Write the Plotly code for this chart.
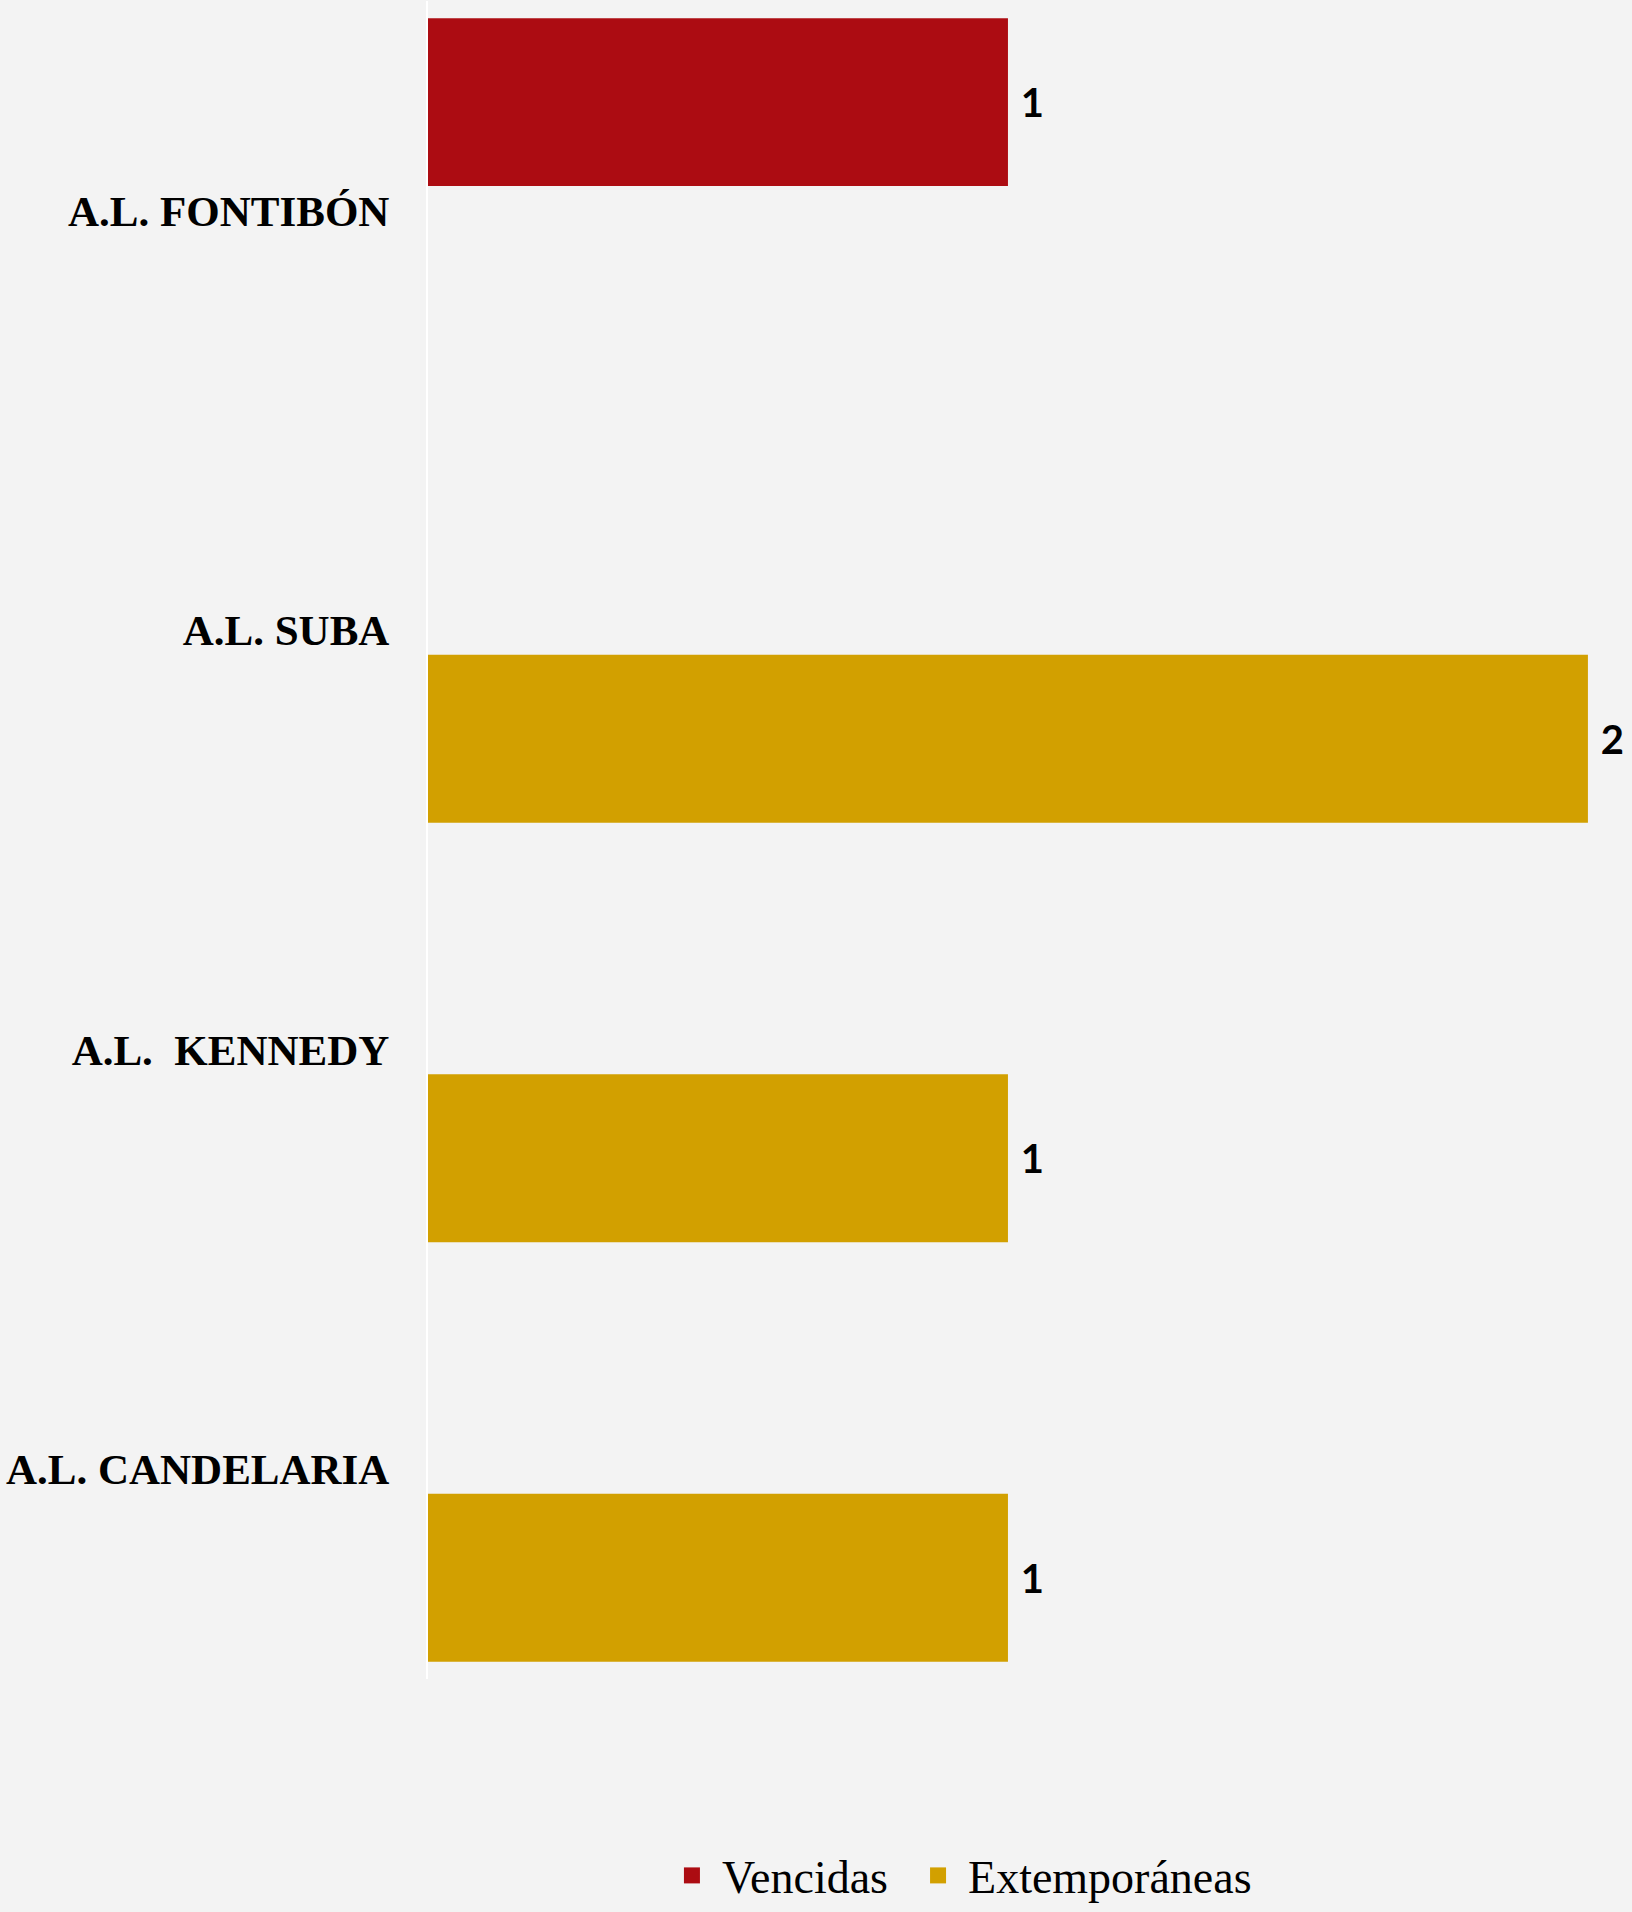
import plotly.graph_objects as go

categories = ["A.L. FONTIBÓN", "A.L. SUBA", "A.L.\u00a0 KENNEDY", "A.L. CANDELARIA"]
vencidas = [1, None, None, None]
extemporaneas = [None, 2, 1, 1]
series_names = ["Vencidas", "Extemporáneas"]
colors = ["#AC0C12", "#D2A000"]

def labels(vals):
    return ["\u00a0" + str(v) if v else "" for v in vals]

fig = go.Figure()
for vals, name, col, off, leg in [(vencidas, series_names[0], colors[0], -0.459, "legend"),
                                  (extemporaneas, series_names[1], colors[1], 0.0586, "legend2")]:
    fig.add_trace(go.Bar(
        y=categories, x=vals, orientation="h", name=name,
        marker=dict(color=col, line=dict(width=0)),
        width=0.4, offset=off,
        text=labels(vals), textposition="outside", cliponaxis=False,
        textfont=dict(family="Lato", size=40, color="#000000", weight="bold"),
        showlegend=False,
    ))
    fig.add_trace(go.Scatter(
        x=[None], y=[None], mode="markers", name=name,
        marker=dict(symbol="square", size=20, color=col),
        showlegend=True, legend=leg,
    ))

legend_common = dict(orientation="h", xref="container", yref="container",
                     y=0.0, xanchor="left", yanchor="bottom",
                     font=dict(family="Liberation Serif", size=46, color="#000000"),
                     bgcolor="rgba(0,0,0,0)", itemsizing="trace", itemwidth=50)

fig.update_layout(
    width=1632, height=1912,
    margin=dict(l=428, r=0, t=1, b=233, autoexpand=False),
    paper_bgcolor="#F3F3F3", plot_bgcolor="#F3F3F3",
    barmode="overlay",
    showlegend=True,
    legend=dict(x=0.4056, **legend_common),
    legend2=dict(x=0.5564, **legend_common),
    xaxis=dict(range=[0, 2.076], showgrid=False, zeroline=False, showticklabels=False,
               showline=False, fixedrange=True),
    yaxis=dict(type="category", categoryorder="array", categoryarray=categories,
               range=[3.5, -0.5], showgrid=False, zeroline=False,
               showline=True, linecolor="#FFFFFF", linewidth=2,
               ticks="", ticklabelstandoff=28,
               tickfont=dict(family="Liberation Serif", size=43, color="#000000", weight="bold")),
)

fig.write_html("out.html", config={"displayModeBar": False},
               post_script="document.body.style.margin='0';document.body.style.background='#F3F3F3';")
